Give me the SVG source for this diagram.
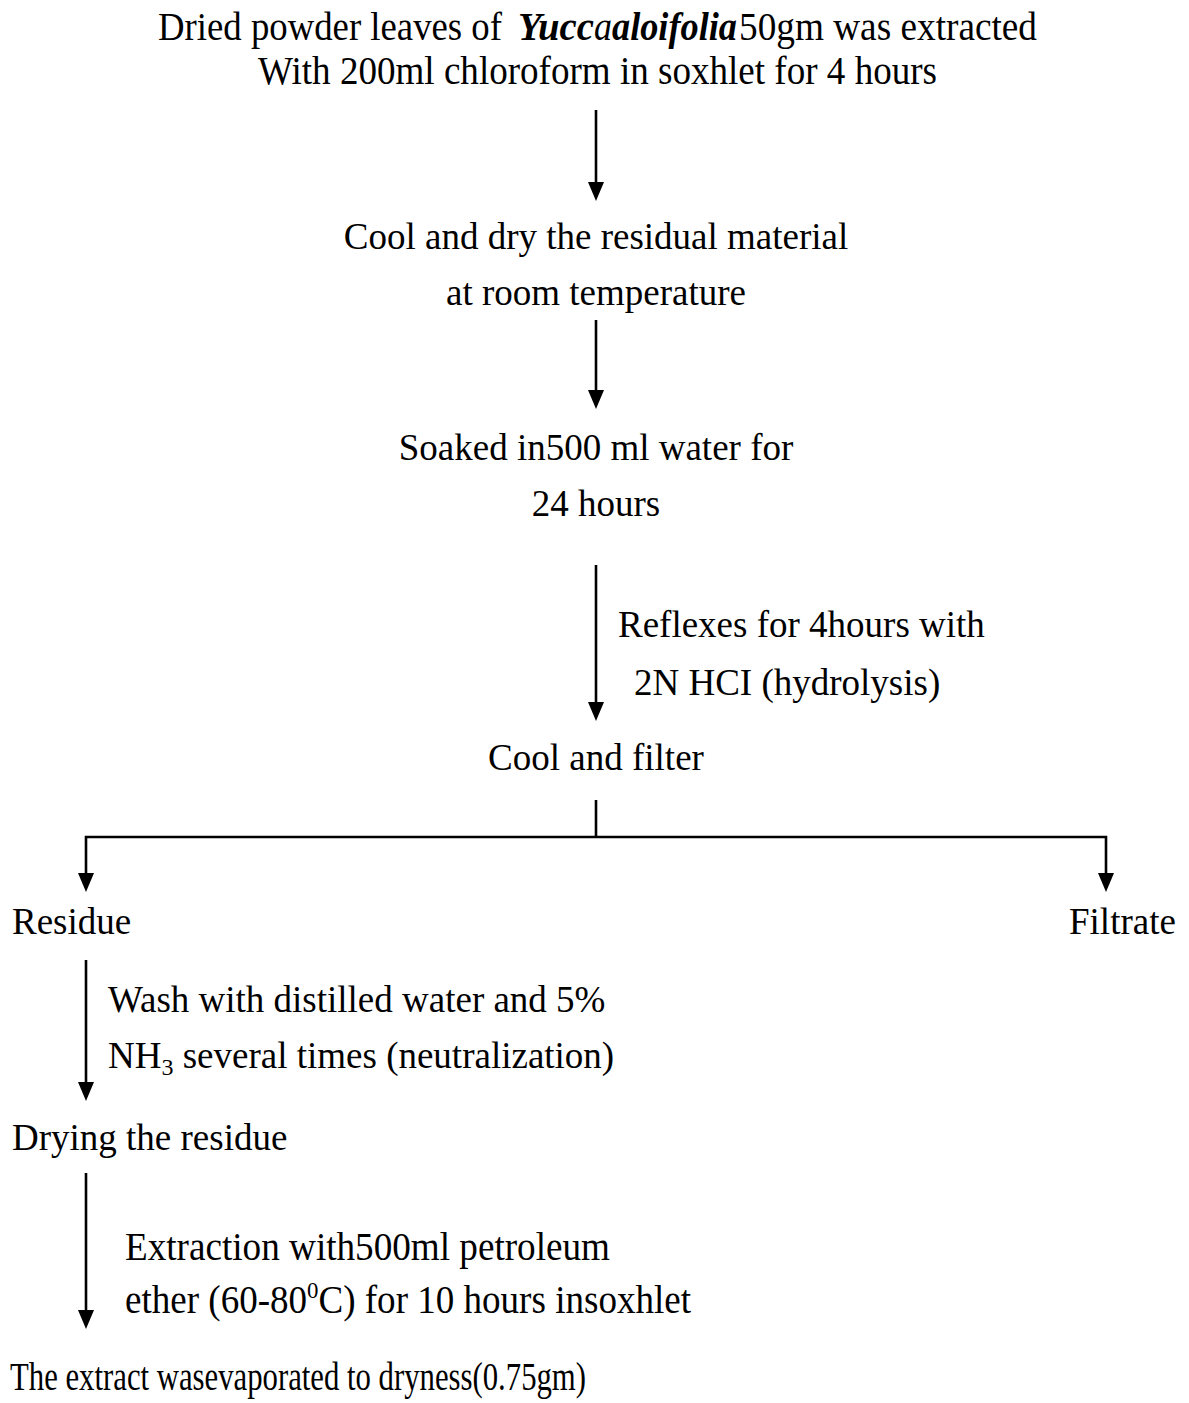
<svg xmlns="http://www.w3.org/2000/svg" width="1189" height="1403" viewBox="0 0 1189 1403">
<style>
text{font-family:"Liberation Serif","Times New Roman",serif;font-size:37px;fill:#000}
.c{text-anchor:middle}
.t{font-size:39px}
.bi{font-weight:bold;font-style:italic}
.it{font-style:italic}
.ln{stroke:#000;stroke-width:2.6;fill:none}
.ah{fill:#000}
</style>
<rect width="1189" height="1403" fill="#fff"/>
<g id="connectors">
<line class="ln" x1="596" y1="110" x2="596" y2="183"/><path class="ah" d="M588,182 L604,182 L596,201 Z"/>
<line class="ln" x1="596" y1="320" x2="596" y2="391"/><path class="ah" d="M588,390 L604,390 L596,409 Z"/>
<line class="ln" x1="596" y1="565" x2="596" y2="703"/><path class="ah" d="M588,702 L604,702 L596,721 Z"/>
<polyline class="ln" points="596,800 596,837"/>
<polyline class="ln" points="86,874 86,837 1106,837 1106,874"/>
<path class="ah" d="M78,873 L94,873 L86,892 Z"/>
<path class="ah" d="M1098,873 L1114,873 L1106,892 Z"/>
<line class="ln" x1="86" y1="960" x2="86" y2="1083"/><path class="ah" d="M78,1082 L94,1082 L86,1101 Z"/>
<line class="ln" x1="86" y1="1173" x2="86" y2="1311"/><path class="ah" d="M78,1310 L94,1310 L86,1329 Z"/>
</g>
<g id="n1">
<text class="t" x="158" y="40" textLength="344" lengthAdjust="spacingAndGlyphs">Dried powder leaves of</text>
<text class="t bi" x="518" y="40" textLength="76" lengthAdjust="spacingAndGlyphs">Yucc</text>
<text class="t it" x="594" y="40" textLength="18" lengthAdjust="spacingAndGlyphs">a</text>
<text class="t bi" x="612" y="40" textLength="125" lengthAdjust="spacingAndGlyphs">aloifolia</text>
<text class="t" x="739" y="40" textLength="298" lengthAdjust="spacingAndGlyphs">50gm was extracted</text>
<text class="t" x="258" y="84" textLength="679" lengthAdjust="spacingAndGlyphs">With 200ml chloroform in soxhlet for 4 hours</text>
</g>
<g id="n2"><text class="c" x="596" y="249">Cool and dry the residual material</text>
<text class="c" x="596" y="305">at room temperature</text></g>
<g id="n3"><text class="c" x="596" y="460">Soaked in500 ml water for</text>
<text class="c" x="596" y="516">24 hours</text></g>
<g id="l1"><text x="618" y="637">Reflexes for 4hours with</text>
<text x="634" y="695">2N HCI (hydrolysis)</text></g>
<g id="n4"><text class="c" x="596" y="770">Cool and filter</text></g>
<g id="n5"><text x="12" y="934">Residue</text></g>
<g id="n6"><text x="1069" y="934">Filtrate</text></g>
<g id="l2"><text x="108" y="1012">Wash with distilled water and 5%</text>
<text x="108" y="1068">NH<tspan font-size="24" dy="7">3</tspan><tspan dy="-7"> several times (neutralization)</tspan></text></g>
<g id="n7"><text x="12" y="1150">Drying the residue</text></g>
<g id="l3">
<text class="t" x="125" y="1260" textLength="485" lengthAdjust="spacingAndGlyphs">Extraction with500ml petroleum</text>
<text class="t" x="125" y="1313" textLength="566" lengthAdjust="spacingAndGlyphs">ether (60-80<tspan font-size="24" dy="-15">0</tspan><tspan dy="15">C) for 10 hours insoxhlet</tspan></text>
</g>
<g id="n8"><text class="t" x="10" y="1390" textLength="576" lengthAdjust="spacingAndGlyphs">The extract wasevaporated to dryness(0.75gm)</text></g>
</svg>
